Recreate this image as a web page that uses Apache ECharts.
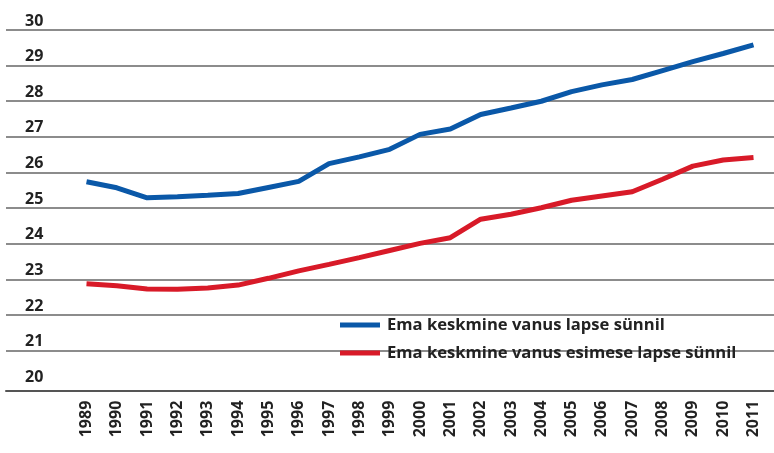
<!DOCTYPE html>
<html>
<head>
<meta charset="utf-8">
<script src="https://cdn.jsdelivr.net/npm/echarts@6/dist/echarts.min.js"></script>
<style>
    html, body { margin: 0; padding: 0; background: #fff; }
    #chart { width: 774px; height: 453px; }
</style>
</head>
<body>
<div id="chart"></div>
<script>
    // years on the x axis
    let years = [
        '1989', '1990', '1991', '1992', '1993', '1994', '1995', '1996',
        '1997', '1998', '1999', '2000', '2001', '2002', '2003', '2004',
        '2005', '2006', '2007', '2008', '2009', '2010', '2011'
    ];

    // mean age of mother at birth of a child
    let ageAllBirths = [
        25.74, 25.57, 25.29, 25.32, 25.36, 25.41, 25.58, 25.75,
        26.25, 26.44, 26.65, 27.07, 27.22, 27.63, 27.81, 28.0,
        28.27, 28.46, 28.61, 28.86, 29.11, 29.34, 29.58
    ];

    // mean age of mother at birth of the first child
    let ageFirstBirth = [
        22.88, 22.82, 22.73, 22.72, 22.76, 22.84, 23.03, 23.24,
        23.42, 23.61, 23.81, 24.01, 24.17, 24.69, 24.83, 25.01,
        25.22, 25.34, 25.46, 25.81, 26.18, 26.35, 26.42
    ];

    let seriesNames = [
        'Ema keskmine vanus lapse sünnil',
        'Ema keskmine vanus esimese lapse sünnil'
    ];

    let yMin = 19.875;
    let yMax = 30;
    let font = '"Open Sans", "DejaVu Sans", sans-serif';
    let gridColor = '#666';

    // the line at 20 is replaced by the bottom axis line, so keep it hidden
    let splitColors = [gridColor, 'rgba(0,0,0,0)'];
    for (let i = 0; i < 10; i++) {
        splitColors.push(gridColor);
    }

    let chart = echarts.init(document.getElementById('chart'));

    chart.setOption({
        animation: false,
        grid: [
            { left: 6, right: 0, top: 30, bottom: 62.3 },
            { left: 86.5, right: 20.5, top: 30, bottom: 62.3 }
        ],
        legend: {
            data: seriesNames,
            orient: 'vertical',
            left: 340,
            top: 315,
            padding: 0,
            icon: 'rect',
            itemWidth: 40,
            itemHeight: 5,
            itemGap: 8,
            textStyle: {
                fontFamily: font,
                fontSize: 16.6,
                fontWeight: 'bold',
                color: '#222',
                lineHeight: 20,
                padding: [0, 0, 0, 2]
            }
        },
        xAxis: [
            {
                gridIndex: 0,
                type: 'value',
                axisLine: { show: true, lineStyle: { color: '#555', width: 2 } },
                axisTick: { show: false },
                axisLabel: { show: false },
                splitLine: { show: false }
            },
            {
                gridIndex: 1,
                type: 'category',
                data: years,
                boundaryGap: false,
                axisLine: { show: false },
                axisTick: { show: false },
                axisLabel: {
                    rotate: 90,
                    margin: 10,
                    interval: 0,
                    fontFamily: font,
                    fontSize: 16,
                    fontWeight: 'bold',
                    color: '#222'
                }
            }
        ],
        yAxis: [
            {
                gridIndex: 0,
                type: 'value',
                min: yMin,
                max: yMax,
                splitNumber: 10,
                axisLine: { show: false },
                axisTick: { show: false },
                axisLabel: {
                    inside: true,
                    margin: 19,
                    verticalAlign: 'bottom',
                    padding: [0, 0, 1, 0],
                    fontFamily: font,
                    fontSize: 16,
                    fontWeight: 'bold',
                    color: '#222',
                    formatter: v => (Number.isInteger(v) ? String(v) : '')
                },
                splitLine: { lineStyle: { color: splitColors, width: 1.5 } }
            },
            {
                gridIndex: 1,
                type: 'value',
                min: yMin,
                max: yMax,
                show: false
            }
        ],
        series: [
            {
                name: seriesNames[0],
                type: 'line',
                xAxisIndex: 1,
                yAxisIndex: 1,
                data: ageAllBirths,
                symbol: 'none',
                color: '#0a58a8',
                lineStyle: { width: 5, color: '#0a58a8' }
            },
            {
                name: seriesNames[1],
                type: 'line',
                xAxisIndex: 1,
                yAxisIndex: 1,
                data: ageFirstBirth,
                symbol: 'none',
                color: '#d81a28',
                lineStyle: { width: 5, color: '#d81a28' }
            }
        ]
    });
</script>
</body>
</html>
